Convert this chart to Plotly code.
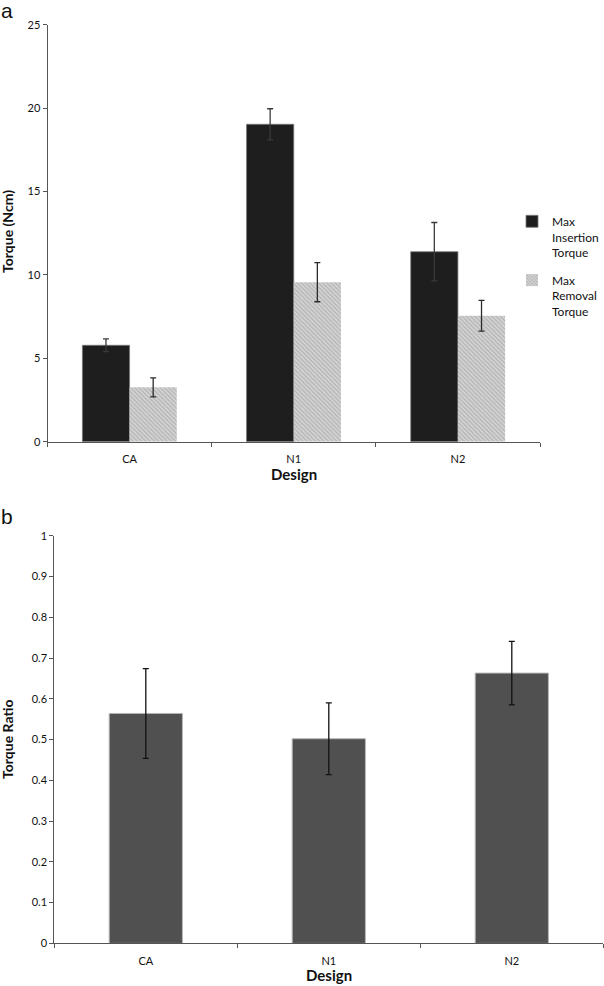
import plotly.graph_objects as go

# ---- data ----
designs = ["CA", "N1", "N2"]
insertion_torque = [5.78, 19.03, 11.39]
insertion_err = [0.38, 0.93, 1.75]
removal_torque = [3.26, 9.56, 7.55]
removal_err = [0.57, 1.17, 0.92]
torque_ratio = [0.564, 0.502, 0.663]
ratio_err = [0.11, 0.088, 0.078]

W, H = 604, 986
FONT = "Lato"

def px(x):
    return x / W

def py(y):
    return 1 - y / H

fig = go.Figure()

fig.add_trace(go.Bar(
    x=designs, y=insertion_torque, name="Max<br>Insertion<br>Torque", legendgroup="ins",
    marker=dict(color="#1e1e1e", line=dict(color="#7a7a7a", width=0.8)),
    error_y=dict(type="data", array=insertion_err, color="#3a3a3a", thickness=1.3, width=3),
    xaxis="x", yaxis="y",
))
fig.add_trace(go.Bar(
    x=designs, y=removal_torque, name="Max<br>Removal<br>Torque", legendgroup="rem",
    marker=dict(color="#d4d4d4", line=dict(width=0),
                pattern=dict(shape="\\", fgcolor="#8f8f8f", size=3, solidity=0.4,
                             fillmode="overlay")),
    error_y=dict(type="data", array=removal_err, color="#2a2a2a", thickness=1.3, width=3),
    xaxis="x", yaxis="y",
))
fig.add_trace(go.Bar(
    x=designs, y=torque_ratio, name="Torque Ratio", showlegend=False, width=0.4,
    marker=dict(color="#505050", line=dict(color="#b5b5b5", width=1)),
    error_y=dict(type="data", array=ratio_err, color="#111111", thickness=1.3, width=3),
    xaxis="x2", yaxis="y2",
))

axis_common = dict(showline=True, linecolor="#555555", linewidth=1, showgrid=False,
                   zeroline=False, ticks="outside", ticklen=4, tickcolor="#555555",
                   automargin=False,
                   tickfont=dict(family=FONT, size=11, color="#111111"))

fig.update_layout(
    template="none",
    width=W, height=H, margin=dict(l=0, r=0, t=0, b=0, pad=0),
    paper_bgcolor="white", plot_bgcolor="white",
    barmode="group", bargap=0.425, bargroupgap=0,
    font=dict(family=FONT, color="#111111"),
    xaxis=dict(domain=[px(47.5), px(540)], anchor="y", type="category",
               tickson="boundaries", ticklabelstandoff=7, **axis_common),
    yaxis=dict(domain=[py(441.7), py(24.7)], anchor="x", range=[0, 25], dtick=5,
               **axis_common),
    xaxis2=dict(domain=[px(54.3), px(603.3)], anchor="y2", type="category",
                tickson="boundaries", ticklabelstandoff=7, **axis_common),
    yaxis2=dict(domain=[py(943.4), py(535.7)], anchor="x2", range=[0, 1], dtick=0.1,
                **axis_common),
    legend=dict(x=px(512), y=py(207), xanchor="left", yanchor="top",
                font=dict(family=FONT, size=12, color="#111111"),
                bgcolor="rgba(0,0,0,0)", valign="top", tracegroupgap=9),
    annotations=[
        dict(text="a", x=px(-1), y=py(-3), xref="paper", yref="paper", xanchor="left",
             yanchor="top", showarrow=False,
             font=dict(family="Liberation Sans", size=21, color="#111111")),
        dict(text="b", x=px(-1), y=py(503), xref="paper", yref="paper", xanchor="left",
             yanchor="top", showarrow=False,
             font=dict(family="Liberation Sans", size=21, color="#111111")),
        dict(text="<b>Torque (Ncm)</b>", x=px(7), y=py(232), xref="paper", yref="paper",
             textangle=-90, showarrow=False, xanchor="center", yanchor="middle",
             font=dict(family=FONT, size=14)),
        dict(text="<b>Torque Ratio</b>", x=px(7), y=py(740), xref="paper", yref="paper",
             textangle=-90, showarrow=False, xanchor="center", yanchor="middle",
             font=dict(family=FONT, size=14)),
        dict(text="<b>Design</b>", x=px(294), y=py(474), xref="paper", yref="paper",
             showarrow=False, xanchor="center", yanchor="middle",
             font=dict(family=FONT, size=15)),
        dict(text="<b>Design</b>", x=px(329), y=py(975), xref="paper", yref="paper",
             showarrow=False, xanchor="center", yanchor="middle",
             font=dict(family=FONT, size=15)),
    ],
)

fig.write_html("out.html", config={"displayModeBar": False},
               post_script="document.body.style.margin='0';")
